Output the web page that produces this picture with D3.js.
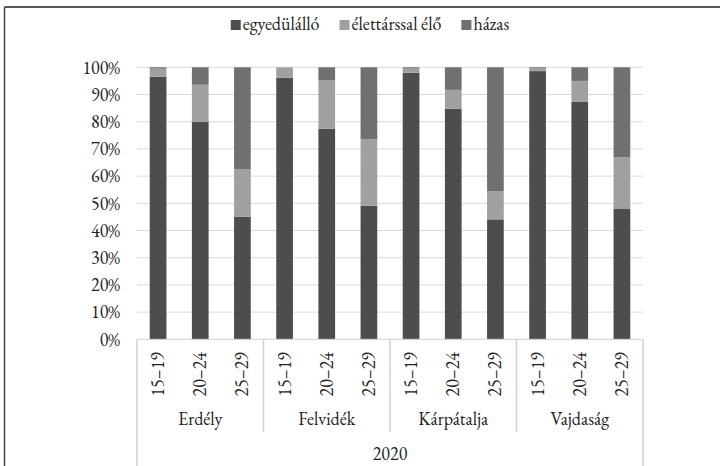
<!DOCTYPE html>
<html>
<head>
<meta charset="UTF-8">
<title>Családi állapot 2020</title>
<style>
    body { margin: 0; background: #ffffff; }
    #chart { display: block; }
</style>
</head>
<body>
<svg id="chart" width="720" height="466"></svg>
<script src="https://d3js.org/d3.v7.min.js"></script>
<script>
    // adatok (százalék)
    var regions = ["Erdély", "Felvidék", "Kárpátalja", "Vajdaság"];
    var ages = ["15–19", "20–24", "25–29"];
    var seriesNames = ["egyedülálló", "élettárssal élő", "házas"];
    var egyedulallo = [96.5, 80.0, 45.0, 96.2, 77.4, 49.1, 98.0, 84.8, 44.1, 98.6, 87.4, 47.9];
    var elettarssal = [3.0, 13.6, 17.6, 3.8, 17.9, 24.5, 1.5, 6.9, 10.4, 1.0, 7.6, 19.1];
    var hazas = [0.5, 6.4, 37.4, 0.0, 4.7, 26.4, 0.5, 8.3, 45.5, 0.4, 5.0, 33.0];
    var yearLabel = "2020";
    var yTicks = [0, 10, 20, 30, 40, 50, 60, 70, 80, 90, 100];

    var colors = ["#4d4d4d", "#a0a0a0", "#707070"];
    var serif = "'EB Garamond', 'Liberation Serif', serif";
    var fs = 18;

    var rows = [];
    regions.forEach(function(r, ri) {
        ages.forEach(function(a, ai) {
            var i = ri * ages.length + ai;
            rows.push({ key: r + "|" + a, region: r, age: a,
                s0: egyedulallo[i], s1: elettarssal[i], s2: hazas[i] });
        });
    });

    var svg = d3.select("#chart");
    var plotLeft = 137, plotRight = 643, plotTop = 67.3, plotBottom = 339.3;

    // keret
    svg.append("line").attr("x1", 4.5).attr("x2", 720).attr("y1", 7).attr("y2", 7)
        .attr("stroke", "#222").attr("stroke-width", 1.5);
    svg.append("line").attr("x1", 4.5).attr("x2", 4.5).attr("y1", 7).attr("y2", 466)
        .attr("stroke", "#444").attr("stroke-width", 1.5);

    var x = d3.scaleBand()
        .domain(rows.map(function(d) { return d.key; }))
        .range([plotLeft, plotRight])
        .paddingInner(0.604)
        .paddingOuter(0.302);

    var y = d3.scaleLinear().domain([0, 100]).range([plotBottom, plotTop]);

    // rácsvonalak
    svg.append("g").selectAll("line")
        .data(yTicks.filter(function(t) { return t > 0; }))
        .enter().append("line")
        .attr("x1", plotLeft).attr("x2", plotRight)
        .attr("y1", function(d) { return y(d); })
        .attr("y2", function(d) { return y(d); })
        .attr("stroke", "#d9d9d9").attr("stroke-width", 1);

    // y tengely
    var yAxis = svg.append("g")
        .attr("transform", "translate(" + plotLeft + ",0)")
        .call(d3.axisLeft(y).tickValues(yTicks).tickSize(0).tickPadding(17)
            .tickFormat(function(d) { return d + "%"; }));
    yAxis.select(".domain").remove();
    yAxis.selectAll("text")
        .style("font-family", serif).style("font-size", fs + "px")
        .attr("fill", "#222");

    // halmozott oszlopok
    var stack = d3.stack().keys(["s0", "s1", "s2"]);
    var layers = stack(rows);

    svg.append("g").selectAll("g")
        .data(layers)
        .enter().append("g")
        .attr("fill", function(d, i) { return colors[i]; })
        .selectAll("rect")
        .data(function(d) { return d; })
        .enter().append("rect")
        .attr("x", function(d) { return x(d.data.key); })
        .attr("width", x.bandwidth())
        .attr("y", function(d) { return y(d[1]); })
        .attr("height", function(d) { return y(d[0]) - y(d[1]); });

    // kategória tengely
    var axisColor = "#d0d0d0";
    svg.append("line").attr("x1", plotLeft).attr("x2", plotRight)
        .attr("y1", plotBottom).attr("y2", plotBottom)
        .attr("stroke", axisColor).attr("stroke-width", 1);

    var step = x.step();
    var groupW = step * ages.length;
    regions.forEach(function(r, ri) {
        var gx = plotLeft + ri * groupW;
        if (ri > 0) {
            svg.append("line").attr("x1", gx).attr("x2", gx)
                .attr("y1", plotBottom).attr("y2", 432)
                .attr("stroke", axisColor).attr("stroke-width", 1.5);
        }
        svg.append("text")
            .attr("x", gx + groupW / 2).attr("y", 425)
            .attr("text-anchor", "middle")
            .style("font-family", serif).style("font-size", fs + "px")
            .attr("fill", "#222")
            .text(r);
    });
    [plotLeft, plotRight].forEach(function(v) {
        svg.append("line").attr("x1", v).attr("x2", v)
            .attr("y1", plotBottom).attr("y2", 466)
            .attr("stroke", axisColor).attr("stroke-width", 1.5);
    });

    svg.append("g").selectAll("text")
        .data(rows)
        .enter().append("text")
        .attr("transform", function(d) {
            return "translate(" + (x(d.key) + x.bandwidth() / 2) + ",352) rotate(-90)";
        })
        .attr("text-anchor", "end")
        .attr("dy", "0.33em")
        .style("font-family", serif).style("font-size", fs + "px")
        .attr("fill", "#222")
        .text(function(d) { return d.age; });

    svg.append("text")
        .attr("x", (plotLeft + plotRight) / 2).attr("y", 460)
        .attr("text-anchor", "middle")
        .style("font-family", serif).style("font-size", fs + "px")
        .attr("fill", "#222")
        .text(yearLabel);

    // jelmagyarázat
    var legend = svg.append("g");
    var lx = 0;
    seriesNames.forEach(function(name, i) {
        var item = legend.append("g").attr("transform", "translate(" + lx + ",0)");
        item.append("rect").attr("x", 0).attr("y", 20).attr("width", 10).attr("height", 10)
            .attr("fill", colors[i]);
        var t = item.append("text").attr("x", 12).attr("y", 30)
            .style("font-family", serif).style("font-size", fs + "px")
            .attr("fill", "#222").text(name);
        lx += 12 + t.node().getComputedTextLength() + 20;
    });
    var lw = lx - 20;
    legend.attr("transform", "translate(" + (370 - lw / 2) + ",0)");
</script>
</body>
</html>
